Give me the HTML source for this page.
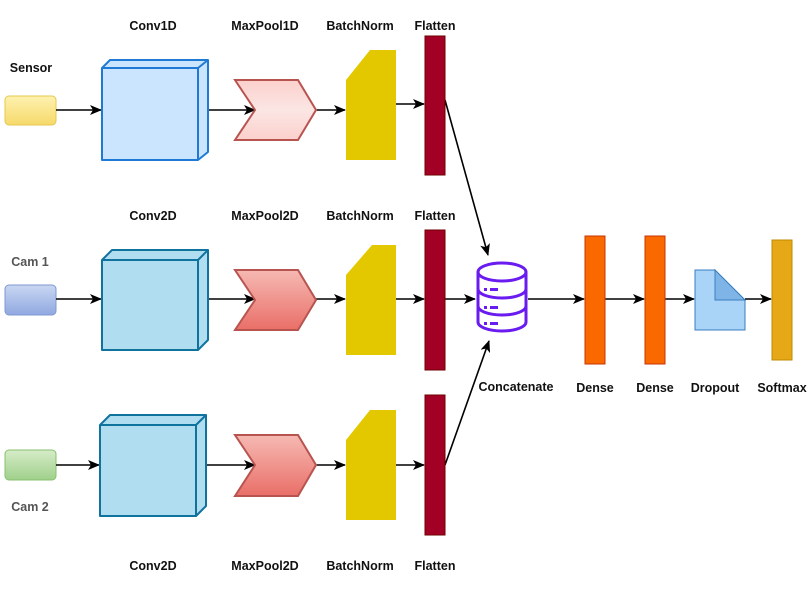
<!DOCTYPE html>
<html><head><meta charset="utf-8"><style>
html,body{margin:0;padding:0;background:#fff;}
svg{display:block;}
text{font-family:"Liberation Sans",sans-serif;font-weight:bold;font-size:12.5px;fill:#111;text-anchor:middle;}
</style></head><body>
<svg width="811" height="591" viewBox="0 0 811 591" xmlns="http://www.w3.org/2000/svg">
<defs>
<marker id="a" markerWidth="12" markerHeight="10" refX="11" refY="5" orient="auto" markerUnits="userSpaceOnUse">
<path d="M0,0 L12,5 L0,10 L3,5 Z" fill="#000"/></marker>
<linearGradient id="y" x1="0" y1="0" x2="0" y2="1"><stop offset="0" stop-color="#fff2b0"/><stop offset="1" stop-color="#f5d96a"/></linearGradient>
<linearGradient id="b" x1="0" y1="0" x2="0" y2="1"><stop offset="0" stop-color="#c9d7f2"/><stop offset="1" stop-color="#8fa8e0"/></linearGradient>
<linearGradient id="g" x1="0" y1="0" x2="0" y2="1"><stop offset="0" stop-color="#d6ecc8"/><stop offset="1" stop-color="#9fd08a"/></linearGradient>
<linearGradient id="p1" x1="0" y1="0" x2="0" y2="1"><stop offset="0" stop-color="#fbd0cc"/><stop offset="0.5" stop-color="#fbe6e4"/><stop offset="1" stop-color="#fbd0cc"/></linearGradient>
<linearGradient id="p2" x1="0" y1="0" x2="0" y2="1"><stop offset="0" stop-color="#f6b9b3"/><stop offset="1" stop-color="#e96f68"/></linearGradient>
</defs>

<!-- labels -->
<text x="153" y="30">Conv1D</text><text x="265" y="30">MaxPool1D</text><text x="360" y="30">BatchNorm</text><text x="435" y="30">Flatten</text>
<text x="153" y="220">Conv2D</text><text x="265" y="220">MaxPool2D</text><text x="360" y="220">BatchNorm</text><text x="435" y="220">Flatten</text>
<text x="153" y="570">Conv2D</text><text x="265" y="570">MaxPool2D</text><text x="360" y="570">BatchNorm</text><text x="435" y="570">Flatten</text>
<text x="31" y="72">Sensor</text>
<text x="30" y="266" style="fill:#555">Cam 1</text>
<text x="30" y="511" style="fill:#555">Cam 2</text>
<text x="516" y="391">Concatenate</text><text x="595" y="392">Dense</text><text x="655" y="392">Dense</text><text x="715" y="392">Dropout</text><text x="782" y="392">Softmax</text>

<!-- inputs -->
<rect x="5" y="96" width="51" height="29" rx="4" fill="url(#y)" stroke="#e6c84f"/>
<rect x="5" y="285" width="51" height="30" rx="4" fill="url(#b)" stroke="#7f98d0"/>
<rect x="5" y="450" width="51" height="30" rx="4" fill="url(#g)" stroke="#88c070"/>

<g stroke="#000" stroke-width="1.6" fill="none" marker-end="url(#a)">
<line x1="56" y1="110" x2="101" y2="110"/><line x1="208" y1="110" x2="255" y2="110"/><line x1="316" y1="110" x2="345" y2="110"/><line x1="396" y1="104" x2="424" y2="104"/>
<line x1="56" y1="299" x2="101" y2="299"/><line x1="208" y1="299" x2="255" y2="299"/><line x1="316" y1="299" x2="345" y2="299"/><line x1="396" y1="299" x2="424" y2="299"/>
<line x1="56" y1="465" x2="99" y2="465"/><line x1="206" y1="465" x2="255" y2="465"/><line x1="316" y1="465" x2="345" y2="465"/><line x1="396" y1="465" x2="424" y2="465"/>
<line x1="445" y1="100" x2="488" y2="255"/><line x1="445" y1="299" x2="475" y2="299"/><line x1="445" y1="465" x2="489" y2="341"/>
<line x1="528" y1="299" x2="584" y2="299"/><line x1="605" y1="299" x2="644" y2="299"/><line x1="665" y1="299" x2="694" y2="299"/><line x1="745" y1="299" x2="771" y2="299"/>
</g>

<!-- cubes -->
<g stroke-width="2" stroke-linejoin="round">
<polygon points="102,68 110,60 208,60 208,152 198,160 102,160" fill="#cce5ff" stroke="#1f7ad6"/>
<polyline points="102,68 198,68 198,160 M198,68" fill="none" stroke="#1f7ad6"/>
<line x1="198" y1="68" x2="208" y2="60" stroke="#1f7ad6"/>
<polygon points="102,260 112,250 208,250 208,340 198,350 102,350" fill="#b1ddf0" stroke="#10739e"/>
<polyline points="102,260 198,260 198,350" fill="none" stroke="#10739e"/>
<line x1="198" y1="260" x2="208" y2="250" stroke="#10739e"/>
<polygon points="100,425 110,415 206,415 206,506 196,516 100,516" fill="#b1ddf0" stroke="#10739e"/>
<polyline points="100,425 196,425 196,516" fill="none" stroke="#10739e"/>
<line x1="196" y1="425" x2="206" y2="415" stroke="#10739e"/>
</g>

<!-- chevrons -->
<polygon points="235,80 298,80 316,110 298,140 235,140 255,110" fill="url(#p1)" stroke="#b85450" stroke-width="2"/>
<polygon points="235,270 298,270 316,300 298,330 235,330 255,300" fill="url(#p2)" stroke="#b85450" stroke-width="2"/>
<polygon points="235,435 298,435 316,465 298,496 235,496 255,465" fill="url(#p2)" stroke="#b85450" stroke-width="2"/>

<!-- batchnorm -->
<polygon points="346,80 370,50 396,50 396,160 346,160" fill="#e3c800"/>
<polygon points="346,275 372,245 396,245 396,355 346,355" fill="#e3c800"/>
<polygon points="346,440 370,410 396,410 396,520 346,520" fill="#e3c800"/>

<!-- flatten -->
<rect x="425" y="36" width="20" height="139" fill="#a20025" stroke="#6f0000"/>
<rect x="425" y="230" width="20" height="140" fill="#a20025" stroke="#6f0000"/>
<rect x="425" y="395" width="20" height="140" fill="#a20025" stroke="#6f0000"/>

<!-- cylinder -->
<g fill="none" stroke="#6a1bf0" stroke-width="3">
<path d="M478,272 L478,322 A24,9 0 0 0 526,322 L526,272"/>
<ellipse cx="502" cy="272" rx="24" ry="9" fill="#fff"/>
<path d="M478,289 A24,9 0 0 0 526,289"/>
<path d="M478,306 A24,9 0 0 0 526,306"/>
</g>
<g fill="#6a1bf0">
<rect x="484" y="288" width="3" height="3"/><rect x="490" y="288" width="8" height="3"/>
<rect x="484" y="306" width="3" height="3"/><rect x="490" y="306" width="8" height="3"/>
<rect x="484" y="322" width="3" height="3"/><rect x="490" y="322" width="8" height="3"/>
</g>

<!-- dense -->
<rect x="585" y="236" width="20" height="128" fill="#fa6800" stroke="#c73500"/>
<rect x="645" y="236" width="20" height="128" fill="#fa6800" stroke="#c73500"/>
<!-- dropout -->
<polygon points="695,270 715,270 745,300 745,330 695,330" fill="#a9d3f7" stroke="#3a7fc0"/>
<polygon points="715,270 745,300 715,300" fill="#7fb4e6" stroke="#3a7fc0"/>
<!-- softmax -->
<rect x="772" y="240" width="20" height="120" fill="#e6a817" stroke="#c08a00"/>
</svg>
</body></html>
